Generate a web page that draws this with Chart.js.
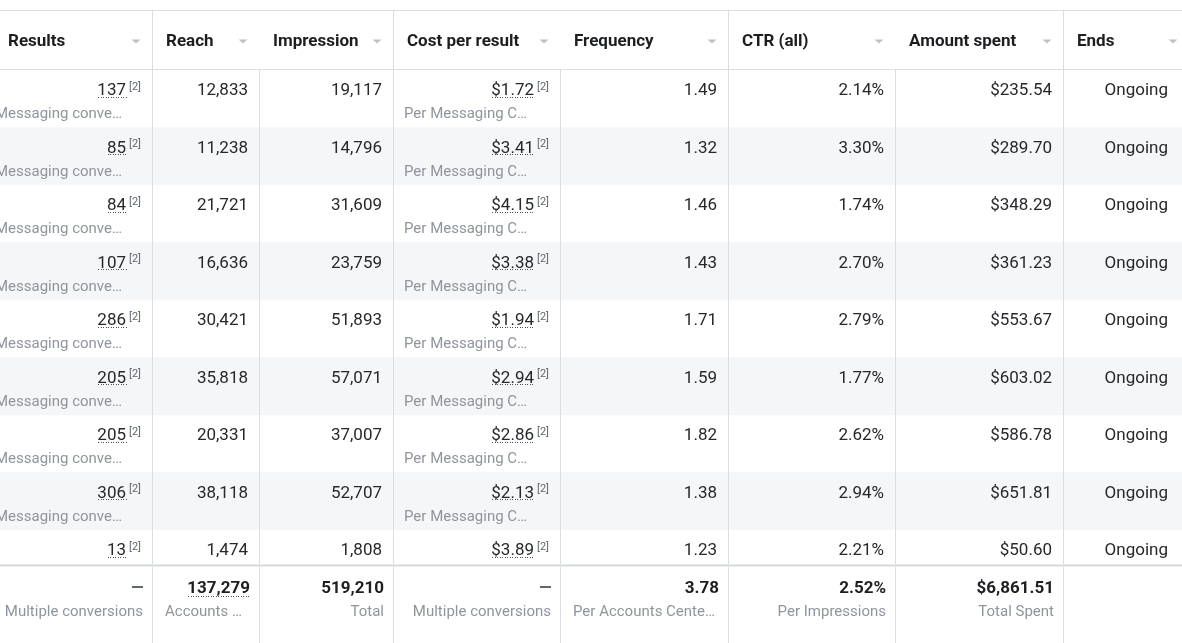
<!DOCTYPE html>
<html>
<head>
<meta charset="utf-8">
<script src="https://cdn.jsdelivr.net/npm/chart.js@4.4.1/dist/chart.umd.min.js"></script>
<style>
  html, body { margin: 0; padding: 0; background: #fff; overflow: hidden; }
  #chart { display: block; }
</style>
</head>
<body>
<canvas id="chart" width="1182" height="643"></canvas>
<script>
// columns and rows of the ads report
const columns = ["Results", "Reach", "Impression", "Cost per result", "Frequency", "CTR (all)", "Amount spent", "Ends"]
const rowLabels = ["Ad 1", "Ad 2", "Ad 3", "Ad 4", "Ad 5", "Ad 6", "Ad 7", "Ad 8", "Ad 9"]

const results = [137, 85, 84, 107, 286, 205, 205, 306, 13]
const reach = [12833, 11238, 21721, 16636, 30421, 35818, 20331, 38118, 1474]
const impressions = [19117, 14796, 31609, 23759, 51893, 57071, 37007, 52707, 1808]
const costPerResult = [1.72, 3.41, 4.15, 3.38, 1.94, 2.94, 2.86, 2.13, 3.89]
const frequency = [1.49, 1.32, 1.46, 1.43, 1.71, 1.59, 1.82, 1.38, 1.23]
const ctr = [2.14, 3.30, 1.74, 2.70, 2.79, 1.77, 2.62, 2.94, 2.21]
const amountSpent = [235.54, 289.70, 348.29, 361.23, 553.67, 603.02, 586.78, 651.81, 50.60]
const ends = ["Ongoing", "Ongoing", "Ongoing", "Ongoing", "Ongoing", "Ongoing", "Ongoing", "Ongoing", "Ongoing"]

const resultNote = "Messaging conve…"
const costNote = "Per Messaging C…"

const totals = ["—", 137279, 519210, "—", 3.78, 2.52, 6861.51, ""]
const totalNotes = ["Multiple conversions", "Accounts …", "Total", "Multiple conversions", "Per Accounts Cente…", "Per Impressions", "Total Spent", ""]

// layout (not data)
const colWidths = [158, 107, 134, 167, 168, 167, 168, 126]
const startX = -6
const headerCols = [0, 2, 4, 6]   // columns whose right edge has a separator in the header

const FONT = "Roboto, 'Noto Sans', sans-serif"
const TXT = "#26282c"
const SUB = "#90949c"
const LINE = "#dadde1"
const STRIPE = "#f5f6f7"

const fmtInt = v => v.toLocaleString("en-US")
const fmtMoney = v => "$" + v.toLocaleString("en-US", { minimumFractionDigits: 2, maximumFractionDigits: 2 })

const edges = [startX]
colWidths.forEach(w => edges.push(edges[edges.length - 1] + w))

function cellText(c, i) {
    switch (c) {
        case 0: return fmtInt(results[i])
        case 1: return fmtInt(reach[i])
        case 2: return fmtInt(impressions[i])
        case 3: return fmtMoney(costPerResult[i])
        case 4: return frequency[i].toFixed(2)
        case 5: return ctr[i].toFixed(2) + "%"
        case 6: return fmtMoney(amountSpent[i])
        case 7: return ends[i]
    }
}

function totalText(c) {
    const v = totals[c]
    if (typeof v === "string") return v
    if (c === 4) return v.toFixed(2)
    if (c === 5) return v.toFixed(2) + "%"
    if (c === 6) return fmtMoney(v)
    return fmtInt(v)
}

function dotted(ctx, x1, x2, y) {
    ctx.fillStyle = "#4b4f56"
    for (let x = x1 + 1; x < x2; x += 2.5) ctx.fillRect(Math.round(x), y, 1, 1)
}

const tablePlugin = {
    id: "table",
    afterDatasetsDraw(chart) {
        const ctx = chart.ctx
        const xs = chart.scales.x
        const ys = chart.scales.y
        const area = chart.chartArea
        const px = e => xs.getPixelForValue(edges[e])
        const footTop = 565

        ctx.save()
        ctx.beginPath()
        ctx.rect(0, area.top, chart.width, footTop - area.top)
        ctx.clip()

        // body vertical lines
        ctx.fillStyle = LINE
        for (let e = 1; e < edges.length - 1; e++) ctx.fillRect(Math.round(px(e)), area.top, 1, area.bottom - area.top)

        // body cells
        rowLabels.forEach((lab, i) => {
            const cy = ys.getPixelForValue(i)
            const vy = cy - 8
            const ny = cy + 15.5
            ctx.textBaseline = "middle"
            for (let c = 0; c < columns.length; c++) {
                const right = px(c + 1)
                const pad = c === 7 ? 21 : 11
                const t = cellText(c, i)
                ctx.font = "17px " + FONT
                ctx.fillStyle = TXT
                ctx.textAlign = "right"
                if (c === 0 || c === 3) {
                    ctx.font = "11px " + FONT
                    ctx.fillStyle = "#606770"
                    const sw = ctx.measureText("[2]").width
                    ctx.fillText("[2]", right - pad, vy - 4)
                    ctx.font = "17px " + FONT
                    ctx.fillStyle = TXT
                    const tr = right - pad - sw - 3
                    ctx.fillText(t, tr, vy)
                    const w = ctx.measureText(t).width
                    dotted(ctx, tr - w, tr, Math.round(vy + 6))
                    ctx.font = "15px " + FONT
                    ctx.fillStyle = SUB
                    if (c === 0) {
                        ctx.textAlign = "right"
                        ctx.fillText(resultNote, right - 30, ny)
                    } else {
                        ctx.textAlign = "left"
                        ctx.fillText(costNote, px(c) + 11, ny)
                    }
                } else {
                    ctx.fillText(t, right - pad, vy)
                }
            }
        })
        ctx.restore()

        // header
        ctx.save()
        ctx.fillStyle = "#fff"
        ctx.fillRect(0, 0, chart.width, area.top)
        ctx.fillStyle = LINE
        ctx.fillRect(0, 10, chart.width, 1)
        ctx.fillRect(0, area.top - 1, chart.width, 1)
        headerCols.forEach(c => ctx.fillRect(Math.round(px(c + 1)), 10, 1, area.top - 10))
        ctx.textBaseline = "middle"
        columns.forEach((name, c) => {
            ctx.font = "bold 17px " + FONT
            ctx.fillStyle = "#1c1e21"
            ctx.textAlign = "left"
            ctx.fillText(name, px(c) + 14, 42)
            const ax = px(c + 1) - 16
            ctx.fillStyle = "#bec3c9"
            ctx.beginPath()
            ctx.moveTo(ax - 4.5, 39.5)
            ctx.lineTo(ax + 4.5, 39.5)
            ctx.lineTo(ax, 43.5)
            ctx.closePath()
            ctx.fill()
        })
        ctx.restore()

        // summary row
        ctx.save()
        ctx.fillStyle = "#fff"
        ctx.fillRect(0, footTop, chart.width, chart.height - footTop)
        ctx.fillStyle = "#e9eaec"
        ctx.fillRect(0, footTop - 1, chart.width, 1)
        ctx.fillStyle = "#d3d6da"
        ctx.fillRect(0, footTop, chart.width, 1)
        ctx.fillStyle = "#eeeff1"
        ctx.fillRect(0, footTop + 1, chart.width, 1)
        ctx.fillStyle = LINE
        for (let e = 1; e < edges.length - 1; e++) ctx.fillRect(Math.round(px(e)), footTop + 2, 1, chart.height - footTop)
        ctx.textBaseline = "middle"
        columns.forEach((name, c) => {
            const right = px(c + 1) - 9
            const t = totalText(c)
            ctx.textAlign = "right"
            if (t === "—") {
                ctx.fillStyle = "#606770"
                ctx.fillRect(right - 11, 586, 11, 2)
            } else if (t) {
                ctx.font = "bold 17px " + FONT
                ctx.fillStyle = "#1c1e21"
                ctx.fillText(t, right, 589)
                if (c === 1) {
                    const w = ctx.measureText(t).width
                    dotted(ctx, right - w, right, 596)
                }
            }
            ctx.font = "15px " + FONT
            ctx.fillStyle = SUB
            if (c === 1 || c === 4) {
                ctx.textAlign = "left"
                ctx.fillText(totalNotes[c], px(c) + 13, 612)
            } else {
                ctx.fillText(totalNotes[c], right, 612)
            }
        })
        ctx.restore()
    }
}

const ctx = document.getElementById("chart").getContext("2d")

new Chart(ctx, {
    type: "bar",
    data: {
        labels: rowLabels,
        datasets: [{
            label: "stripe",
            data: rowLabels.map((r, i) => i % 2 === 1 ? [edges[0], edges[edges.length - 1]] : null),
            backgroundColor: STRIPE,
            borderWidth: 0,
            barPercentage: 1,
            categoryPercentage: 1
        }]
    },
    options: {
        indexAxis: "y",
        responsive: false,
        animation: false,
        devicePixelRatio: 1,
        layout: { padding: { top: 70, bottom: 55.5, left: 0, right: 0 } },
        plugins: { legend: { display: false }, tooltip: { enabled: false } },
        scales: {
            x: { type: "linear", min: 0, max: 1182, display: false },
            y: { type: "category", display: false, offset: true }
        }
    },
    plugins: [tablePlugin]
})
</script>
</body>
</html>
